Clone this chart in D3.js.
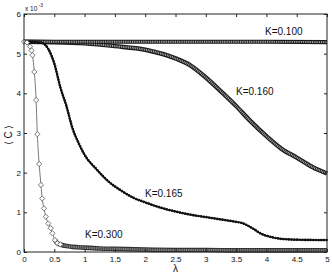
<!DOCTYPE html>
<html>
<head>
<meta charset="utf-8">
<script src="https://cdn.jsdelivr.net/npm/d3@7"></script>
<style>
  body { margin: 0; background: #fff; }
  text { font-family: "Liberation Sans", Arial, sans-serif; }
</style>
</head>
<body>
<script>
// values, <C> in units of 1e-3
const xTicks = [0, 0.5, 1, 1.5, 2, 2.5, 3, 3.5, 4, 4.5, 5];
const yTicks = [0, 1, 2, 3, 4, 5, 6];

const lamK100 = [0, 1, 2, 3, 4, 5];
const valK100 = [5.30, 5.30, 5.30, 5.30, 5.30, 5.29];

const lamK160 = [0, 0.5, 1, 1.5, 2, 2.5, 2.75, 3, 3.25, 3.5, 3.75, 4, 4.25, 4.5, 4.75, 5];
const valK160 = [5.30, 5.29, 5.26, 5.19, 5.10, 4.88, 4.70, 4.40, 4.05, 3.68, 3.28, 2.92, 2.60, 2.38, 2.15, 1.98];

const lamK165 = [0, 0.1, 0.2, 0.3, 0.4, 0.5, 0.6, 0.7, 0.8, 0.9, 1, 1.2, 1.4, 1.6, 1.8, 2,
  2.25, 2.5, 2.75, 3, 3.25, 3.5, 3.6, 3.7, 3.8, 3.9, 4, 4.1, 4.2, 4.5, 5];
const valK165 = [5.30, 5.30, 5.29, 5.27, 5.12, 4.75, 4.15, 3.68, 3.12, 2.75, 2.45, 2.08, 1.77, 1.55, 1.37, 1.25,
  1.12, 1.02, 0.94, 0.88, 0.82, 0.76, 0.73, 0.66, 0.57, 0.47, 0.41, 0.37, 0.34, 0.31, 0.30];

const lamK300 = [0, 0.05, 0.1, 0.125, 0.14, 0.17, 0.2, 0.22, 0.25, 0.28, 0.3, 0.33, 0.36, 0.4, 0.44,
  0.47, 0.51, 0.55, 0.6, 0.7, 0.8, 1, 1.25, 1.5, 2, 2.5, 3, 3.5, 4, 4.5, 5];
const valK300 = [5.30, 5.28, 5.18, 5.08, 4.96, 4.54, 3.83, 2.97, 2.22, 1.69, 1.35, 1.10, 0.89, 0.72, 0.60,
  0.47, 0.30, 0.22, 0.19, 0.15, 0.13, 0.11, 0.09, 0.08, 0.06, 0.05, 0.05, 0.04, 0.04, 0.04, 0.04];

const seriesLabels = ["K=0.100", "K=0.160", "K=0.165", "K=0.300"];

const width = 332;
const height = 276;
const margin = { top: 14, right: 5, bottom: 24, left: 24 };

const svg = d3
  .select("body")
  .append("svg")
  .attr("width", width)
  .attr("height", height);

const x = d3.scaleLinear().domain([0, 5]).range([margin.left, width - margin.right]);
const y = d3.scaleLinear().domain([0, 6]).range([height - margin.bottom, margin.top]);

const zip = (ls, vs) => ls.map((l, i) => [l, vs[i]]);
const line = d3
  .line()
  .x((d) => x(d[0]))
  .y((d) => y(d[1]))
  .curve(d3.curveMonotoneX);

const plot = svg.append("g");

// dense square markers -> hatched band
function band(data, w, dark) {
  plot.append("path").attr("d", line(data)).attr("fill", "none")
    .attr("stroke", dark).attr("stroke-width", w);
  plot.append("path").attr("d", line(data)).attr("fill", "none")
    .attr("stroke", "#b8b8b8").attr("stroke-width", w - 2.4)
    .attr("stroke-dasharray", "0.9,0.9");
}

const k100 = zip(lamK100, valK100);
const k160 = zip(lamK160, valK160);
const k165 = zip(lamK165, valK165);
const k300 = zip(lamK300, valK300);

band(k160, 4.5, "#1a1a1a");
band(k100, 4.2, "#1a1a1a");

// K=0.165: thin line with small filled dots
plot.append("path").attr("d", line(k165)).attr("fill", "none")
  .attr("stroke", "#000").attr("stroke-width", 1.4);
plot.append("path").attr("d", line(k165)).attr("fill", "none")
  .attr("stroke", "#111").attr("stroke-width", 2.7)
  .attr("stroke-linecap", "round")
  .attr("stroke-dasharray", "0,2.7");

// K=0.300: thin grey line with open diamonds
band(k300.filter((d) => d[0] >= 0.5), 4.6, "#333");
plot.append("path").attr("d", line(k300)).attr("fill", "none")
  .attr("stroke", "#555").attr("stroke-width", 0.8);
plot.selectAll(".dia")
  .data(k300.filter((d) => d[0] <= 0.6))
  .enter()
  .append("path")
  .attr("class", "dia")
  .attr("transform", (d) => `translate(${x(d[0])},${y(d[1])})`)
  .attr("d", "M0,-2.6L2.6,0L0,2.6L-2.6,0Z")
  .attr("fill", "#fff")
  .attr("stroke", "#555")
  .attr("stroke-width", 0.8);

// axes box with inward ticks
const fmt = d3.format("~g");
const axB = svg.append("g").attr("transform", `translate(0,${y(0)})`)
  .call(d3.axisBottom(x).tickValues(xTicks).tickSize(-3).tickPadding(4).tickFormat(fmt));
const axT = svg.append("g").attr("transform", `translate(0,${y(6)})`)
  .call(d3.axisTop(x).tickValues(xTicks).tickSize(-3).tickFormat(""));
const axL = svg.append("g").attr("transform", `translate(${x(0)},0)`)
  .call(d3.axisLeft(y).tickValues(yTicks).tickSize(-3).tickPadding(3).tickFormat(fmt));
const axR = svg.append("g").attr("transform", `translate(${x(5)},0)`)
  .call(d3.axisRight(y).tickValues(yTicks).tickSize(-3).tickFormat(""));
[axB, axT, axL, axR].forEach((g) => {
  g.select(".domain").remove();
  g.selectAll("line").attr("stroke", "#222");
  g.selectAll("text").attr("font-size", 8).attr("fill", "#111")
    .attr("font-family", "Liberation Sans, Arial, sans-serif");
});
svg.append("rect")
  .attr("x", x(0)).attr("y", y(6))
  .attr("width", x(5) - x(0)).attr("height", y(0) - y(6))
  .attr("fill", "none").attr("stroke", "#222").attr("stroke-width", 1);

// exponent
svg.append("text").attr("x", 25).attr("y", 11).attr("font-size", 6.5).attr("fill", "#111").text("x 10");
svg.append("text").attr("x", 38.5).attr("y", 6.5).attr("font-size", 5).attr("fill", "#111").text("-3");

// axis titles
svg.append("text")
  .attr("transform", `translate(12,${(y(0) + y(6)) / 2 + 2}) rotate(-90)`)
  .attr("text-anchor", "middle")
  .attr("font-size", 10)
  .attr("fill", "#111")
  .attr("font-family", "DejaVu Sans, sans-serif")
  .text("\u27E8 C \u27E9");
svg.append("text")
  .attr("x", (x(0) + x(5)) / 2)
  .attr("y", 272)
  .attr("text-anchor", "middle")
  .attr("font-size", 10)
  .attr("fill", "#111")
  .text("\u03BB");

// curve labels
const labelPos = [[265, 35], [236, 95], [145, 196.5], [85, 238]];
svg.selectAll(".klab")
  .data(seriesLabels)
  .enter()
  .append("text")
  .attr("class", "klab")
  .attr("x", (_, i) => labelPos[i][0])
  .attr("y", (_, i) => labelPos[i][1])
  .attr("font-size", 10)
  .attr("fill", "#111")
  .text((d) => d);
</script>
</body>
</html>
